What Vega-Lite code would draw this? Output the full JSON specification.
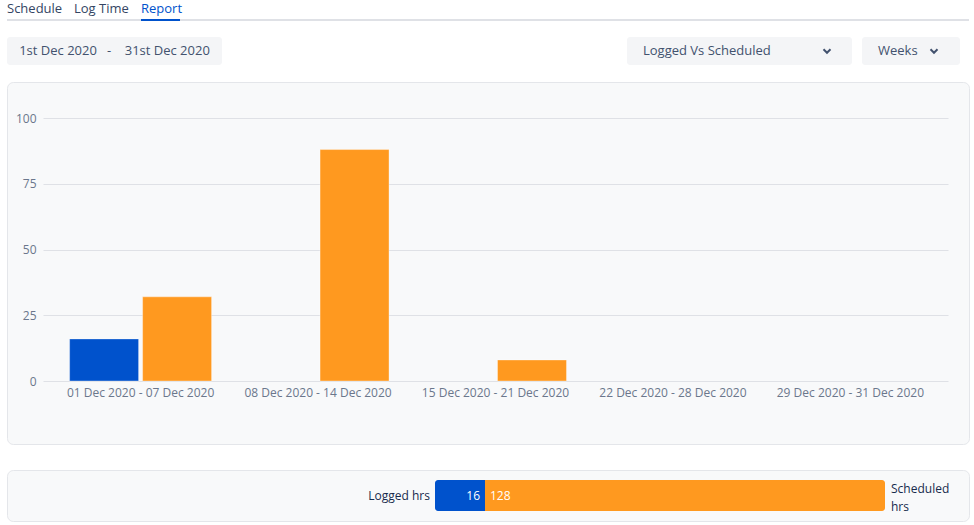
{
  "$schema": "https://vega.github.io/schema/vega-lite/v6.json",
  "background": "#ffffff",
  "padding": {"left": 6, "right": 6, "top": 0, "bottom": 5},
  "config": {
    "font": "Open Sans",
    "view": {"stroke": null},
    "axis": {"labelFont": "Open Sans", "titleFont": "Open Sans"}
  },
  "datasets": {
    "tabs": [
      {"tab": "Schedule", "active": false},
      {"tab": "Log Time", "active": false},
      {"tab": "Report", "active": true}
    ],
    "range": [{"label": "1st Dec 2020\u00a0\u00a0\u00a0-\u00a0\u00a0\u00a0\u00a031st Dec 2020"}],
    "controls": [
      {"menu": "metric", "part": "label", "text": "Logged Vs Scheduled"},
      {"menu": "metric", "part": "icon", "text": ""},
      {"menu": "period", "part": "label", "text": "Weeks"},
      {"menu": "period", "part": "icon", "text": ""}
    ],
    "weekly": [
      {"week": "01 Dec 2020 - 07 Dec 2020", "series": "Logged", "hours": 16},
      {"week": "01 Dec 2020 - 07 Dec 2020", "series": "Scheduled", "hours": 32},
      {"week": "08 Dec 2020 - 14 Dec 2020", "series": "Logged", "hours": 0},
      {"week": "08 Dec 2020 - 14 Dec 2020", "series": "Scheduled", "hours": 88},
      {"week": "15 Dec 2020 - 21 Dec 2020", "series": "Logged", "hours": 0},
      {"week": "15 Dec 2020 - 21 Dec 2020", "series": "Scheduled", "hours": 8},
      {"week": "22 Dec 2020 - 28 Dec 2020", "series": "Logged", "hours": 0},
      {"week": "22 Dec 2020 - 28 Dec 2020", "series": "Scheduled", "hours": 0},
      {"week": "29 Dec 2020 - 31 Dec 2020", "series": "Logged", "hours": 0},
      {"week": "29 Dec 2020 - 31 Dec 2020", "series": "Scheduled", "hours": 0}
    ],
    "totals": [
      {"series": "Logged", "hours": 16, "label": "Logged hrs"},
      {"series": "Scheduled", "hours": 128, "label": "Scheduled hrs"}
    ]
  },
  "spacing": 24,
  "vconcat": [
    {
      "spacing": 16,
      "vconcat": [
        {
          "width": 962,
          "height": 21,
          "data": {"name": "tabs"},
          "encoding": {
            "y": {"datum": 0, "type": "quantitative", "scale": {"domain": [0, 1], "nice": false, "zero": false}, "axis": null}
          },
          "layer": [
            {
              "mark": {"type": "rule", "color": "#DFE1E6", "strokeWidth": 2},
              "encoding": {
                "x": {"datum": 0, "type": "quantitative", "scale": {"domain": [0, 1], "nice": false}, "axis": null},
                "x2": {"datum": 1},
                "y": {"datum": 0.05, "type": "quantitative"}
              }
            },
            {
              "encoding": {
                "x": {
                  "field": "tab", "type": "nominal", "sort": null,
                  "scale": {"domain": ["Schedule", "Log Time", "Report"], "range": [0, 173], "paddingInner": 0.418, "paddingOuter": 0},
                  "axis": null
                }
              },
              "layer": [
                {
                  "mark": {"type": "text", "align": "left", "baseline": "middle", "dy": -1.5, "fontSize": 13},
                  "encoding": {
                    "x": {"field": "tab", "type": "nominal", "sort": null, "bandPosition": 0},
                    "y": {"datum": 0.5, "type": "quantitative"},
                    "text": {"field": "tab"},
                    "color": {"condition": {"test": "datum.active", "value": "#0052CC"}, "value": "#344563"}
                  }
                },
                {
                  "transform": [{"filter": "datum.active"}],
                  "mark": {"type": "bar", "color": "#0052CC"},
                  "encoding": {
                    "x": {"field": "tab", "type": "nominal", "sort": null},
                    "y": {"datum": 0, "type": "quantitative"},
                    "y2": {"datum": 0.1}
                  }
                }
              ]
            }
          ],
          "resolve": {"scale": {"x": "independent"}}
        },
        {
          "spacing": 405,
          "hconcat": [
            {
              "width": 215,
              "height": 28,
              "data": {"name": "range"},
              "view": {"fill": "#F4F5F7", "cornerRadius": 3, "stroke": null},
              "mark": {"type": "text", "fontSize": 13, "color": "#42526E", "baseline": "middle"},
              "encoding": {"text": {"field": "label"}}
            },
            {
              "spacing": 10,
              "hconcat": [
                {
                  "width": 225,
                  "height": 28,
                  "data": {"name": "controls"},
                  "transform": [{"filter": "datum.menu === 'metric'"}],
                  "view": {"fill": "#F4F5F7", "cornerRadius": 3, "stroke": null},
                  "encoding": {
                    "x": {"field": "part", "type": "nominal", "sort": null, "scale": {"type": "point", "domain": ["label", "icon"], "padding": 0.1114, "align": 0.39}, "axis": null}
                  },
                  "layer": [
                    {
                      "transform": [{"filter": "datum.part === 'label'"}],
                      "mark": {"type": "text", "align": "left", "baseline": "middle", "fontSize": 13, "color": "#42526E"},
                      "encoding": {"text": {"field": "text"}}
                    },
                    {
                      "transform": [{"filter": "datum.part === 'icon'"}],
                      "mark": {"type": "point", "shape": "M-1,-0.5L0,0.5L1,-0.5", "filled": false, "color": "#42526E", "strokeWidth": 2, "size": 49, "opacity": 1}
                    }
                  ]
                },
                {
                  "width": 98,
                  "height": 28,
                  "data": {"name": "controls"},
                  "transform": [{"filter": "datum.menu === 'period'"}],
                  "view": {"fill": "#F4F5F7", "cornerRadius": 3, "stroke": null},
                  "encoding": {
                    "x": {"field": "part", "type": "nominal", "sort": null, "scale": {"type": "point", "domain": ["label", "icon"], "padding": 0.375, "align": 0.381}, "axis": null}
                  },
                  "layer": [
                    {
                      "transform": [{"filter": "datum.part === 'label'"}],
                      "mark": {"type": "text", "align": "left", "baseline": "middle", "fontSize": 13, "color": "#42526E"},
                      "encoding": {"text": {"field": "text"}}
                    },
                    {
                      "transform": [{"filter": "datum.part === 'icon'"}],
                      "mark": {"type": "point", "shape": "M-1,-0.5L0,0.5L1,-0.5", "filled": false, "color": "#42526E", "strokeWidth": 2, "size": 49, "opacity": 1}
                    }
                  ]
                }
              ]
            }
          ]
        },
        {
          "width": 962,
          "height": 362,
          "view": {"fill": "#F8F9FA", "stroke": "#E4E6EA", "cornerRadius": 6},
          "data": {"name": "weekly"},
          "mark": {"type": "bar", "stroke": "#ffffff", "strokeWidth": 1},
          "encoding": {
            "x": {
              "field": "week", "type": "nominal", "sort": null,
              "scale": {"range": [36, 941], "paddingInner": 0.2, "paddingOuter": 0.15},
              "axis": {"title": null, "labelAngle": 0, "domain": false, "ticks": false, "grid": false, "offset": -63, "labelPadding": 6, "labelFontSize": 12, "labelColor": "#6B778C", "labelLimit": 0}
            },
            "xOffset": {"field": "series", "type": "nominal", "sort": ["Logged", "Scheduled"], "scale": {"paddingInner": 0.055}},
            "y": {
              "field": "hours", "type": "quantitative",
              "scale": {"domain": [0, 100], "range": [299, 36], "nice": false, "zero": false},
              "axis": {"title": null, "values": [0, 25, 50, 75, 100], "domain": false, "ticks": false, "tickSize": 0, "offset": -33, "labelPadding": 4, "labelFontSize": 12, "labelColor": "#6B778C", "gridColor": "#DFE1E6", "gridWidth": 1}
            },
            "y2": {"datum": 0},
            "color": {"field": "series", "type": "nominal", "scale": {"domain": ["Logged", "Scheduled"], "range": ["#0052CC", "#FF991F"]}, "legend": null},
            "strokeOpacity": {"condition": {"test": "datum.hours > 0", "value": 0.35}, "value": 0}
          }
        }
      ]
    },
    {
      "width": 962,
      "height": 51,
      "view": {"fill": "#F8F9FA", "stroke": "#E4E6EA", "cornerRadius": 6},
      "data": {"name": "totals"},
      "transform": [{"stack": "hours", "groupby": [], "sort": [{"field": "series", "order": "ascending"}], "as": ["h0", "h1"]}],
      "encoding": {
        "y": {"datum": "total", "type": "nominal", "scale": {"paddingInner": 0, "paddingOuter": 0.3226}, "axis": null}
      },
      "layer": [
        {
          "transform": [{"filter": "datum.series === 'Logged'"}],
          "mark": {"type": "bar", "cornerRadiusTopLeft": 3, "cornerRadiusBottomLeft": 3},
          "encoding": {
            "x": {"field": "h0", "type": "quantitative", "scale": {"domain": [0, 144], "range": [428, 878], "nice": false}, "axis": null},
            "x2": {"field": "h1"},
            "color": {"field": "series", "type": "nominal", "scale": {"domain": ["Logged", "Scheduled"], "range": ["#0052CC", "#FF991F"]}, "legend": null}
          }
        },
        {
          "transform": [{"filter": "datum.series === 'Scheduled'"}],
          "mark": {"type": "bar", "cornerRadiusTopRight": 3, "cornerRadiusBottomRight": 3},
          "encoding": {
            "x": {"field": "h0", "type": "quantitative"},
            "x2": {"field": "h1"},
            "color": {"field": "series", "type": "nominal", "legend": null}
          }
        },
        {
          "transform": [{"filter": "datum.series === 'Logged'"}],
          "mark": {"type": "text", "align": "right", "baseline": "middle", "dx": -5, "fontSize": 12, "color": "#172B4D"},
          "encoding": {"x": {"field": "h0", "type": "quantitative"}, "text": {"field": "label"}}
        },
        {
          "transform": [{"filter": "datum.series === 'Scheduled'"}],
          "mark": {"type": "text", "align": "left", "baseline": "middle", "dx": 6, "dy": -6.5, "fontSize": 12, "color": "#172B4D", "lineBreak": " ", "lineHeight": 18},
          "encoding": {"x": {"field": "h1", "type": "quantitative"}, "text": {"field": "label"}}
        },
        {
          "transform": [{"filter": "datum.series === 'Logged'"}],
          "mark": {"type": "text", "align": "right", "baseline": "middle", "dx": -5, "fontSize": 12, "color": "#ffffff"},
          "encoding": {"x": {"field": "h1", "type": "quantitative"}, "text": {"field": "hours", "type": "quantitative"}}
        },
        {
          "transform": [{"filter": "datum.series === 'Scheduled'"}],
          "mark": {"type": "text", "align": "left", "baseline": "middle", "dx": 5, "fontSize": 12, "color": "#ffffff"},
          "encoding": {"x": {"field": "h0", "type": "quantitative"}, "text": {"field": "hours", "type": "quantitative"}}
        }
      ]
    }
  ]
}
